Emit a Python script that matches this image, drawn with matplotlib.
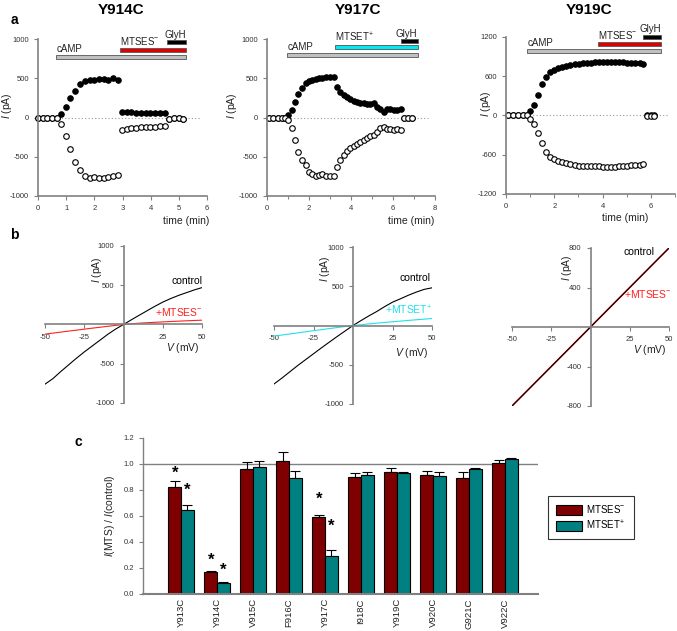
import numpy as np
import matplotlib
matplotlib.use('Agg')
import matplotlib.pyplot as plt
from matplotlib.patches import Rectangle, Patch

plt.rcParams['font.family'] = ['Liberation Sans', 'DejaVu Sans']
plt.rcParams['mathtext.fontset'] = 'custom'
plt.rcParams['mathtext.rm'] = 'Liberation Sans'
plt.rcParams['mathtext.it'] = 'Liberation Sans:italic'
plt.rcParams['axes.unicode_minus'] = False

W, H = 677, 631

# ---- panel a: time courses (min, pA) ----
t914 = [0, 0.17, 0.33, 0.5, 0.66,
        0.83, 0.98, 1.15, 1.32, 1.49, 1.66, 1.83, 2.0, 2.17, 2.33, 2.5, 2.66, 2.83,
        2.98, 3.15, 3.31, 3.48, 3.64, 3.82, 3.99, 4.15, 4.32, 4.5,
        4.65, 4.82, 4.99, 5.16]
out914 = [0, 0, 0, 0, 0,
          47, 137, 244, 338, 427, 462, 475, 480, 485, 493, 475, 500, 478,
          73, 68, 65, 62, 60, 58, 58, 57, 55, 51,
          -20, -8, -8, -15]
in914 = [0, 0, 0, 0, 0,
         -77, -239, -406, -564, -667, -750, -765, -755, -770, -765, -760, -750, -730,
         -162, -145, -137, -128, -120, -115, -115, -115, -110, -103,
         -20, -8, -8, -15]

t917 = [0.1, 0.3, 0.5, 0.7, 0.87,
        0.98, 1.17, 1.33, 1.49, 1.68, 1.84, 2.0, 2.16, 2.32, 2.48, 2.63, 2.79, 2.98, 3.17,
        3.35, 3.49, 3.65, 3.81, 3.97, 4.13, 4.29, 4.44, 4.6, 4.76, 4.92, 5.08, 5.24, 5.4,
        5.56, 5.71, 5.87, 6.03, 6.19, 6.38,
        6.52, 6.71, 6.9]
out917 = [0, 0, 0, 0, 0,
          30, 94, 200, 299, 372, 444, 466, 479, 487, 500, 509, 513, 521, 521,
          385, 320, 286, 256, 235, 214, 200, 188, 180, 167, 170, 180, 137, 103,
          73, 103, 103, 94, 94, 103,
          0, 0, 0]
in917 = [0, 0, 0, 0, 0,
         -34, -132, -290, -440, -547, -607, -697, -718, -739, -731, -726, -739, -748, -748,
         -632, -538, -483, -427, -385, -359, -333, -308, -282, -260, -240, -222, -184, -132,
         -124, -141, -150, -154, -147, -162,
         0, 0, 0]

t919 = [0.1, 0.3, 0.5, 0.7, 0.86,
        0.99, 1.16, 1.33, 1.49, 1.66, 1.83, 2.0, 2.17, 2.33, 2.5, 2.67, 2.84, 3.01, 3.17,
        3.34, 3.51, 3.68, 3.85, 4.01, 4.18, 4.35, 4.52, 4.69, 4.85, 5.02, 5.19, 5.36, 5.53,
        5.69,
        5.82, 5.99, 6.15]
out919 = [0, 0, 0, 0, 0,
          66, 168, 320, 478, 595, 666, 702, 727, 745, 760, 772, 782, 790, 800,
          805, 810, 812, 815, 815, 815, 815, 818, 815, 812, 810, 805, 800, 798,
          790,
          12, 12, 12]
in919 = [0, 0, 0, 0, 0,
         -51, -137, -275, -427, -554, -630, -671, -702, -717, -732, -742, -753, -765, -770,
         -775, -775, -778, -778, -780, -782, -782, -780, -778, -770, -765, -760, -758, -760,
         -745,
         -8, -8, -8]

# ---- panel b: I-V curves (mV, pA) ----
v_iv = [-50, -45, -40, -35, -30, -25, -20, -15, -10, -5, 0, 5, 10, 15, 20, 25, 30, 35, 40, 45, 50]
ctl914 = [-760, -690, -600, -515, -430, -350, -275, -200, -125, -58, 0, 60, 118, 175, 232, 285,
          330, 370, 405, 440, 470]
ctl917 = [-745, -670, -590, -510, -435, -360, -285, -212, -140, -70, 0, 62, 122, 178, 240, 297,
          340, 385, 425, 460, 480]
v_mts = [-50, -40, -30, -20, -10, 0, 10, 20, 30, 40, 50]
mtses914 = [-123, -97, -72, -47, -23, 0, 17, 28, 38, 47, 55]
mtset917 = [-135, -108, -80, -53, -26, 0, 20, 39, 56, 73, 89]
v919 = [-50, 0, 50]
ctl919 = [-800, 0, 800]
mtses919 = [-800, 0, 800]

# ---- panel c: ratio bars ----
mutants = ['Y913C', 'Y914C', 'V915C', 'F916C', 'Y917C', 'I918C', 'Y919C', 'V920C', 'G921C', 'V922C']
mtses = [0.82, 0.17, 0.96, 1.02, 0.59, 0.90, 0.94, 0.915, 0.895, 1.01]
mtses_err = [0.05, 0.01, 0.055, 0.07, 0.02, 0.03, 0.027, 0.035, 0.04, 0.02]
mtset = [0.65, 0.085, 0.975, 0.89, 0.29, 0.915, 0.927, 0.905, 0.958, 1.035]
mtset_err = [0.035, 0.008, 0.045, 0.054, 0.05, 0.02, 0.013, 0.03, 0.01, 0.015]
star_idx = [0, 0, 1, 1, 4, 4]
star_side = [0, 1, 0, 1, 0, 1]
star_y = [0.93, 0.80, 0.26, 0.18, 0.73, 0.52]

RED_BAR = '#e00000'
CYAN_BAR = '#00e8f0'
DARK_RED = '#7f0000'
TEAL = '#008080'
AX_GRAY = '#808080'


def px_axes(fig, x0, y0, x1, y1):
    """axes from pixel box (left, top, right, bottom)"""
    return fig.add_axes([x0 / W, 1 - y1 / H, (x1 - x0) / W, (y1 - y0) / H])


def ftext(fig, x, y, s, **kw):
    fig.text(x / W, 1 - y / H, s, **kw)


def style_time_axes(ax):
    for s in ['top', 'right']:
        ax.spines[s].set_visible(False)
    for s in ['left', 'bottom']:
        ax.spines[s].set_color(AX_GRAY)
        ax.spines[s].set_linewidth(1.2)
    ax.tick_params(colors=AX_GRAY, labelcolor='#333333', labelsize=5.5, length=3, width=0.8)
    ax.tick_params(which='minor', colors=AX_GRAY, length=2, width=0.7)


def draw_bar(ax, t0, t1, y, h, color, edge='#555555'):
    ax.add_patch(Rectangle((t0, y - h / 2), t1 - t0, h, facecolor=color,
                           edgecolor=edge, linewidth=0.6, clip_on=False))


def time_panel(fig, box, t, on, off, xmax, ylim, yticks, xticks, minor, bars, labels):
    ax = px_axes(fig, *box)
    ax.axhline(0, color='#999999', linestyle=(0, (1, 2)), linewidth=0.8, xmin=0, xmax=0.96)
    ax.plot(t, on, 'o', ms=4, mfc='black', mec='black', mew=0.7, clip_on=False)
    ax.plot(t, off, 'o', ms=4, mfc='white', mec='black', mew=0.8, clip_on=False)
    ax.set_xlim(0, xmax)
    ax.set_ylim(*ylim)
    ax.set_xticks(xticks)
    ax.set_xticks(minor, minor=True)
    ax.set_yticks(yticks)
    style_time_axes(ax)
    for (t0, t1, y, h, c) in bars:
        draw_bar(ax, t0, t1, y, h, c)
    for (x, y, s, ha) in labels:
        ax.text(x, y, s, fontsize=7, ha=ha, va='bottom', color='#222222')
    return ax


def iv_panel(fig, box, ylim, yticks, curves, texts, ypos, vpos):
    ax = px_axes(fig, *box)
    for (v, i, c, lw) in curves:
        ax.plot(v, i, color=c, linewidth=lw)
    ax.set_xlim(-50, 50)
    ax.set_ylim(*ylim)
    for s in ['top', 'right']:
        ax.spines[s].set_visible(False)
    for s in ['left', 'bottom']:
        ax.spines[s].set_position('zero')
        ax.spines[s].set_color(AX_GRAY)
        ax.spines[s].set_linewidth(1.2)
    ax.set_xticks([-50, -25, 25, 50])
    ax.set_yticks(yticks)
    ax.tick_params(colors=AX_GRAY, labelcolor='#333333', labelsize=5.5, length=3, width=0.8)
    for (x, y, s, c) in texts:
        ax.text(x, y, s, fontsize=7.5, ha='right', va='center', color=c)
    ax.text(ypos[0], ypos[1], r'$I$ (pA)', rotation=90, fontsize=7.5, ha='center', va='center',
            color='#222222')
    ax.text(vpos[0], vpos[1], r'$V$ (mV)', fontsize=7.5, ha='center', va='center', color='#222222')
    return ax


fig = plt.figure(figsize=(W / 100, H / 100), dpi=100)

# titles and panel letters
for x, s in [(121, 'Y914C'), (358, 'Y917C'), (589, 'Y919C')]:
    ftext(fig, x, 10, s, fontsize=11, fontweight='bold', ha='center', va='center')
for x, y, s in [(14, 20, 'a'), (14, 235, 'b'), (78, 442, 'c')]:
    ftext(fig, x, y, s, fontsize=10, fontweight='bold', ha='center', va='center')

# panel a
time_panel(fig, (38, 39, 207, 196), t914, out914, in914, 6, (-1000, 1000),
           [-1000, -500, 0, 500, 1000], [0, 1, 2, 3, 4, 5, 6], [],
           [(0.63, 5.27, 765, 50, '#c0c0c0'), (2.92, 5.27, 863, 50, RED_BAR),
            (4.58, 5.27, 957, 50, 'black')],
           [(0.65, 805, 'cAMP', 'left'), (2.92, 900, r'MTSES$^{-}$', 'left'),
            (5.27, 990, 'GlyH', 'right')])
time_panel(fig, (267, 39, 435, 196), t917, out917, in917, 8, (-1000, 1000),
           [-1000, -500, 0, 500, 1000], [0, 2, 4, 6, 8], [1, 3, 5, 7],
           [(0.95, 7.17, 795, 50, '#c0c0c0'), (3.25, 7.17, 897, 50, CYAN_BAR),
            (6.38, 7.17, 974, 50, 'black')],
           [(0.97, 835, 'cAMP', 'left'), (3.25, 932, r'MTSET$^{+}$', 'left'),
            (7.17, 1005, 'GlyH', 'right')])
time_panel(fig, (506, 37, 675, 194), t919, out919, in919, 7, (-1200, 1200),
           [-1200, -600, 0, 600, 1200], [0, 2, 4, 6], [1, 3, 5, 7],
           [(0.87, 6.44, 981, 60, '#c0c0c0'), (3.83, 6.44, 1093, 60, RED_BAR),
            (5.66, 6.44, 1200, 60, 'black')],
           [(0.89, 1025, 'cAMP', 'left'), (3.83, 1135, r'MTSES$^{-}$', 'left'),
            (6.44, 1240, 'GlyH', 'right')])

for x, y in [(7, 106), (232, 106), (486, 104)]:
    ftext(fig, x, y, r'$I$ (pA)', rotation=90, fontsize=7.5, ha='center', va='center', color='#222222')
ftext(fig, 209, 221, 'time (min)', fontsize=7.5, ha='right', va='center', color='#222222')
ftext(fig, 434, 221, 'time (min)', fontsize=7.5, ha='right', va='center', color='#222222')
ftext(fig, 625, 218, 'time (min)', fontsize=7.5, ha='center', va='center', color='#222222')

# panel b
iv_panel(fig, (45, 246, 202, 403), (-1000, 1000), [-1000, -500, 500, 1000],
         [(v_iv, ctl914, 'black', 0.8), (v_mts, mtses914, '#ff2020', 0.8)],
         [(50, 550, 'control', 'black'), (50.5, 165, r'+MTSES$^{-}$', '#ff2020')],
         (-17, 700), (37.5, -305))
iv_panel(fig, (274, 247, 432, 404), (-1000, 1000), [-1000, -500, 500, 1000],
         [(v_iv, ctl917, 'black', 0.8), (v_mts, mtset917, '#20e0ea', 0.8)],
         [(49, 600, 'control', 'black'), (50, 190, r'+MTSET$^{+}$', '#20e0ea')],
         (-17.5, 730), (37, -346))
iv_panel(fig, (512, 248, 669, 406), (-800, 800), [-800, -400, 400, 800],
         [(v919, mtses919, '#ff2020', 1.2), (v919, ctl919, 'black', 0.8)],
         [(41, 760, 'control', 'black'), (51.6, 334, r'+MTSES$^{-}$', '#ff2020')],
         (-15, 600), (37.5, -233))

# panel c
ax = px_axes(fig, 143, 438, 538, 594)
x = np.arange(len(mutants))
bw = 0.35
ax.axhline(1.0, color=AX_GRAY, linewidth=1.0, zorder=1)
ax.bar(x - bw / 2, mtses, bw, color=DARK_RED, edgecolor='black', linewidth=0.8, zorder=2)
ax.bar(x + bw / 2, mtset, bw, color=TEAL, edgecolor='black', linewidth=0.8, zorder=2)
ax.errorbar(x - bw / 2, mtses, yerr=[np.zeros(len(mtses)), mtses_err], fmt='none',
            ecolor='black', elinewidth=0.8, capsize=3.5, capthick=0.8, zorder=1.5)
ax.errorbar(x + bw / 2, mtset, yerr=[np.zeros(len(mtset)), mtset_err], fmt='none',
            ecolor='black', elinewidth=0.8, capsize=3.5, capthick=0.8, zorder=1.5)
for i, side, y in zip(star_idx, star_side, star_y):
    xs = i - bw / 2 if side == 0 else i + bw / 2
    ax.text(xs, y, '*', fontsize=12, fontweight='bold', ha='center', va='center')
ax.set_xlim(-1.056, 9.917)
ax.set_ylim(0, 1.2)
ax.set_yticks([0.0, 0.2, 0.4, 0.6, 0.8, 1.0, 1.2])
ax.set_yticklabels(['%.1f' % v for v in [0.0, 0.2, 0.4, 0.6, 0.8, 1.0, 1.2]])
ax.set_xticks(x)
ax.set_xticklabels(mutants, rotation=90, fontsize=6.8)
ax.tick_params(axis='x', length=0, pad=3, labelcolor='#222222')
ax.tick_params(axis='y', colors=AX_GRAY, labelcolor='#333333', labelsize=5.5, length=3, width=0.8)
for s in ['top', 'right']:
    ax.spines[s].set_visible(False)
ax.spines['left'].set_color(AX_GRAY)
ax.spines['left'].set_linewidth(1.0)
ax.spines['bottom'].set_color(AX_GRAY)
ax.spines['bottom'].set_linewidth(1.5)
ftext(fig, 110, 516, r'$I$(MTS) / $I$(control)', rotation=90, fontsize=7.5, ha='center',
      va='center', color='#222222')

handles = [Patch(facecolor=DARK_RED, edgecolor='black', linewidth=0.8, label=r'MTSES$^{-}$'),
           Patch(facecolor=TEAL, edgecolor='black', linewidth=0.8, label=r'MTSET$^{+}$')]
leg = fig.legend(handles=handles, loc='center', bbox_to_anchor=(591 / W, 1 - 517.5 / H),
                 fontsize=7, frameon=True, fancybox=False, handlelength=2.6, handleheight=1.2,
                 borderpad=0.8, labelspacing=0.3, handletextpad=0.5)
leg.get_frame().set_edgecolor('black')
leg.get_frame().set_linewidth(0.8)

fig.savefig('out.png', dpi=100)
